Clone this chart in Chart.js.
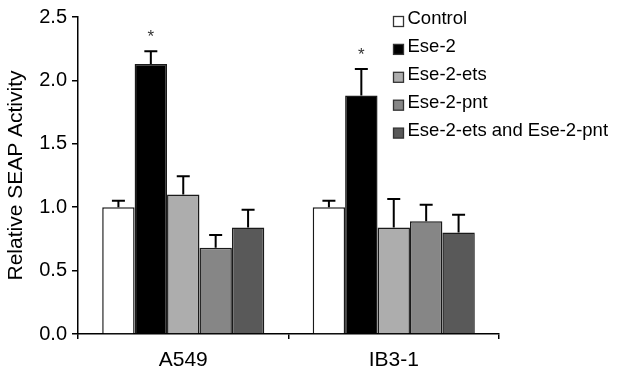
<!DOCTYPE html>
<html>
<head>
<meta charset="utf-8">
<script src="https://cdn.jsdelivr.net/npm/chart.js@4"></script>
<style>
  html, body { margin: 0; padding: 0; background: #fff; }
  #wrap { width: 621px; height: 376px; }
</style>
</head>
<body>
<div id="wrap"><canvas id="myChart"></canvas></div>
<script>
const cellLines = ['A549', 'IB3-1'];
const seriesNames = ['Control', 'Ese-2', 'Ese-2-ets', 'Ese-2-pnt', 'Ese-2-ets and Ese-2-pnt'];
const seriesColors = ['#ffffff', '#000000', '#adadad', '#868686', '#595959'];
const controlVals = [1.00, 1.00];
const ese2Vals = [2.13, 1.88];
const etsVals = [1.10, 0.84];
const pntVals = [0.68, 0.89];
const bothVals = [0.84, 0.80];
const controlErr = [0.05, 0.05];
const ese2Err = [0.10, 0.21];
const etsErr = [0.145, 0.225];
const pntErr = [0.10, 0.13];
const bothErr = [0.14, 0.14];
const yTicks = [0, 0.5, 1.0, 1.5, 2.0, 2.5];
const significant = [[false, false], [true, true], [false, false], [false, false], [false, false]];

const allVals = [controlVals, ese2Vals, etsVals, pntVals, bothVals];
const allErr = [controlErr, ese2Err, etsErr, pntErr, bothErr];

const dataset = {
    labels: cellLines,
    datasets: seriesNames.map(function(name, i) {
        return {
            label: name,
            data: allVals[i],
            errors: allErr[i],
            stars: significant[i],
            backgroundColor: seriesColors[i],
            borderColor: '#1a1a1a',
            borderWidth: 1.5,
            categoryPercentage: 0.77,
            barPercentage: 1.0
        };
    })
};

// error bars + asterisks
const errorBarPlugin = {
    id: 'errorBars',
    afterDatasetsDraw(chart) {
        const ctx = chart.ctx;
        const y = chart.scales.y;
        ctx.save();
        chart.data.datasets.forEach(function(ds, di) {
            const meta = chart.getDatasetMeta(di);
            meta.data.forEach(function(bar, i) {
                const top = y.getPixelForValue(ds.data[i] + ds.errors[i]);
                ctx.strokeStyle = '#000';
                ctx.lineWidth = 2;
                ctx.beginPath();
                ctx.moveTo(bar.x, bar.y);
                ctx.lineTo(bar.x, top);
                ctx.moveTo(bar.x - 6.5, top);
                ctx.lineTo(bar.x + 6.5, top);
                ctx.stroke();
                if (ds.stars[i]) {
                    ctx.fillStyle = '#333';
                    ctx.font = '17px "Liberation Sans", Arial, sans-serif';
                    ctx.textAlign = 'center';
                    ctx.textBaseline = 'alphabetic';
                    ctx.fillText('*', bar.x, top - 9);
                }
            });
        });
        ctx.restore();
    }
};

// legend drawn inside the plot, top right
const boxLegendPlugin = {
    id: 'boxLegend',
    afterDraw(chart) {
        const ctx = chart.ctx;
        const area = chart.chartArea;
        const x0 = area.right - 105.5;
        ctx.save();
        ctx.font = '18.5px "Liberation Sans", Arial, sans-serif';
        ctx.textAlign = 'left';
        ctx.textBaseline = 'alphabetic';
        chart.data.datasets.forEach(function(ds, i) {
            const base = area.top + 7 + i * 27.9;
            ctx.fillStyle = ds.backgroundColor;
            ctx.fillRect(x0, base - 7.5, 10, 10);
            ctx.strokeStyle = '#333';
            ctx.lineWidth = 1.3;
            ctx.strokeRect(x0, base - 7.5, 10, 10);
            ctx.fillStyle = '#000';
            ctx.fillText(ds.label, x0 + 14, base);
        });
        ctx.restore();
    }
};

const config = {
    type: 'bar',
    data: dataset,
    options: {
        responsive: true,
        maintainAspectRatio: false,
        animation: false,
        layout: {
            padding: { left: 0, right: 122, top: 14, bottom: 0 }
        },
        plugins: {
            legend: { display: false },
            tooltip: { enabled: false }
        },
        scales: {
            x: {
                grid: {
                    drawOnChartArea: false,
                    drawTicks: true,
                    tickLength: 5,
                    color: '#000',
                    lineWidth: 1.5
                },
                border: { color: '#000', width: 1.5 },
                ticks: {
                    color: '#000',
                    padding: 9,
                    font: { family: '"Liberation Sans", Arial, sans-serif', size: 21 }
                },
                afterFit: function(scale) { scale.height = 42; }
            },
            y: {
                min: 0,
                max: 2.5,
                afterBuildTicks: function(scale) {
                    scale.ticks = yTicks.map(function(v) { return { value: v }; });
                },
                grid: {
                    drawOnChartArea: false,
                    drawTicks: true,
                    tickLength: 6,
                    color: '#000',
                    lineWidth: 1.5
                },
                border: { color: '#000', width: 1.5 },
                ticks: {
                    color: '#000',
                    padding: 5,
                    font: { family: '"Liberation Sans", Arial, sans-serif', size: 20 },
                    callback: function(v) { return Number(v).toFixed(1); }
                },
                title: {
                    display: true,
                    text: 'Relative SEAP Activity',
                    color: '#000',
                    padding: { top: 4, bottom: 0 },
                    font: { family: '"Liberation Sans", Arial, sans-serif', size: 21 }
                },
                afterFit: function(scale) { scale.width = 78; }
            }
        }
    },
    plugins: [errorBarPlugin, boxLegendPlugin]
};

new Chart(document.getElementById('myChart').getContext('2d'), config);
</script>
</body>
</html>
